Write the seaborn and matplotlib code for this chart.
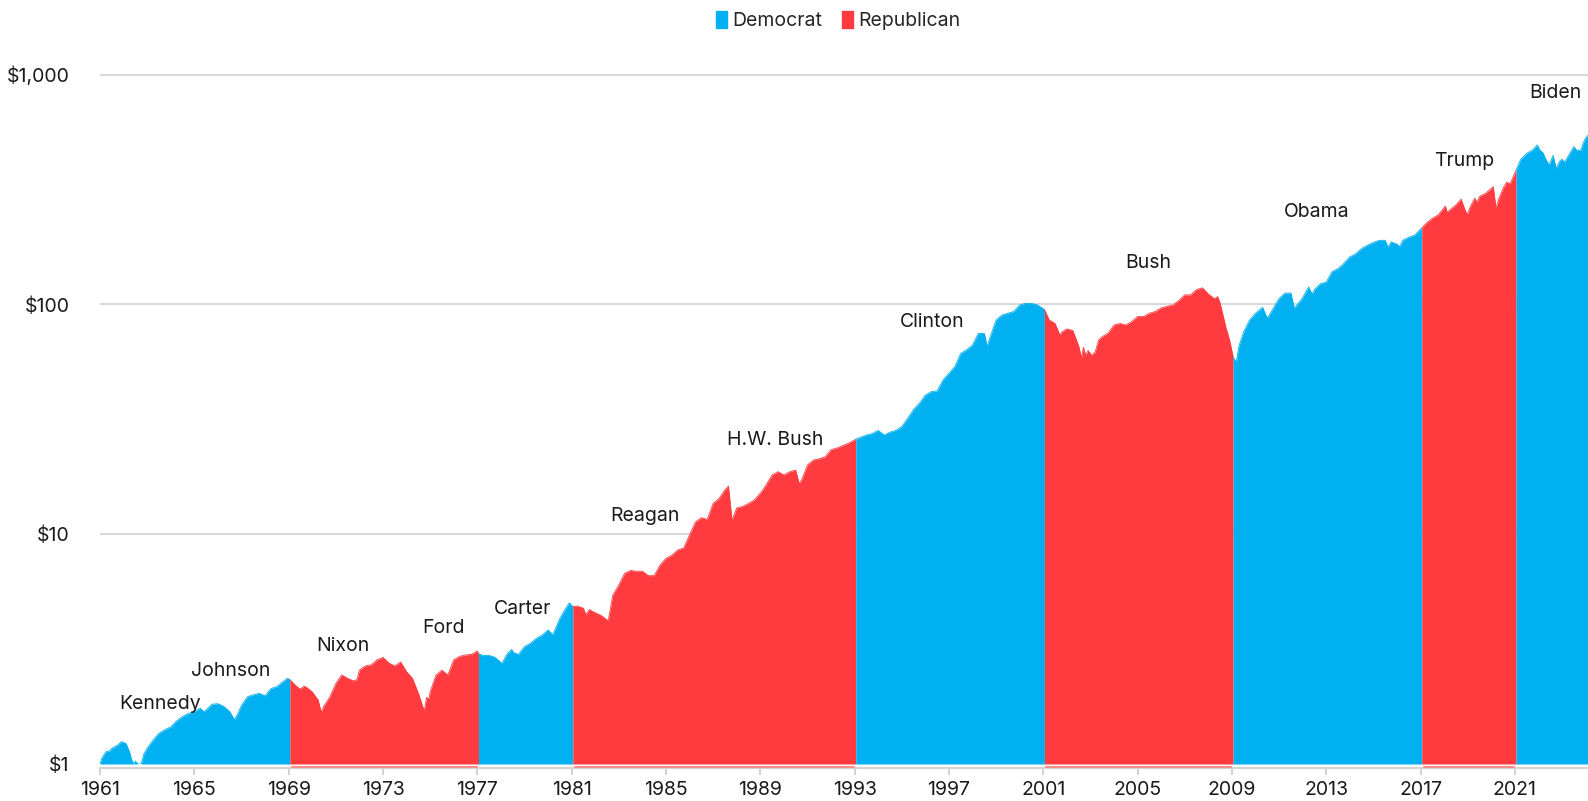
import numpy as np
import pandas as pd
import seaborn as sns
import matplotlib.pyplot as plt
from matplotlib.patches import Patch
from matplotlib import transforms

# growth of $1 (decimal year, value)
dates = [
    1961.00, 1961.08, 1961.25, 1961.40, 1961.50, 1961.75, 1961.90, 1962.10, 1962.25, 1962.35,
    1962.42, 1962.50, 1962.60, 1962.75, 1962.85, 1963.00, 1963.25, 1963.50, 1963.75, 1964.00,
    1964.25, 1964.50, 1964.75, 1965.00, 1965.25, 1965.40, 1965.50, 1965.75, 1966.00, 1966.25,
    1966.50, 1966.70, 1966.85, 1967.00, 1967.25, 1967.50, 1967.75, 1968.00, 1968.25, 1968.50,
    1968.75, 1968.95, 1969.05,
    1969.25, 1969.40, 1969.50, 1969.65, 1969.75, 1970.00, 1970.25, 1970.38, 1970.50, 1970.75,
    1971.00, 1971.25, 1971.50, 1971.75, 1971.90, 1972.00, 1972.25, 1972.50, 1972.75, 1973.00,
    1973.25, 1973.50, 1973.75, 1974.00, 1974.25, 1974.50, 1974.75, 1974.85, 1974.95, 1975.00,
    1975.25, 1975.50, 1975.75, 1976.00, 1976.25, 1976.50, 1976.75, 1977.00, 1977.05,
    1977.25, 1977.50, 1977.75, 1978.05, 1978.25, 1978.45, 1978.55, 1978.75, 1978.85, 1979.00,
    1979.25, 1979.50, 1979.75, 1980.00, 1980.20, 1980.50, 1980.75, 1980.90, 1981.05,
    1981.25, 1981.50, 1981.60, 1981.75, 1982.00, 1982.25, 1982.55, 1982.75, 1983.00, 1983.25,
    1983.50, 1983.75, 1984.00, 1984.25, 1984.50, 1984.75, 1985.00, 1985.25, 1985.50, 1985.75,
    1986.00, 1986.25, 1986.50, 1986.75, 1987.00, 1987.25, 1987.50, 1987.65, 1987.80, 1988.00,
    1988.25, 1988.50, 1988.75, 1989.05,
    1989.25, 1989.50, 1989.75, 1990.00, 1990.25, 1990.50, 1990.65, 1990.75, 1991.00, 1991.25,
    1991.50, 1991.75, 1992.00, 1992.25, 1992.50, 1992.75, 1993.05,
    1993.25, 1993.50, 1993.75, 1994.00, 1994.25, 1994.50, 1994.75, 1995.00, 1995.25, 1995.50,
    1995.75, 1996.00, 1996.25, 1996.50, 1996.75, 1997.00, 1997.25, 1997.50, 1997.75, 1998.00,
    1998.25, 1998.50, 1998.62, 1998.75, 1999.00, 1999.25, 1999.50, 1999.75, 2000.00, 2000.25,
    2000.50, 2000.75, 2001.05,
    2001.25, 2001.50, 2001.70, 2001.80, 2002.00, 2002.25, 2002.50, 2002.62, 2002.70, 2002.80,
    2002.90, 2003.05, 2003.20, 2003.35, 2003.50, 2003.75, 2004.00, 2004.25, 2004.50, 2004.75,
    2005.00, 2005.25, 2005.50, 2005.75, 2006.00, 2006.25, 2006.50, 2006.75, 2007.00, 2007.25,
    2007.50, 2007.75, 2008.00, 2008.25, 2008.40, 2008.50, 2008.75, 2008.90, 2009.05,
    2009.18, 2009.30, 2009.50, 2009.75, 2010.00, 2010.30, 2010.50, 2010.75, 2011.00, 2011.25,
    2011.50, 2011.65, 2011.75, 2012.00, 2012.25, 2012.40, 2012.50, 2012.75, 2013.00, 2013.25,
    2013.50, 2013.75, 2014.00, 2014.25, 2014.50, 2014.75, 2015.00, 2015.25, 2015.50, 2015.62,
    2015.75, 2016.00, 2016.10, 2016.25, 2016.50, 2016.75, 2017.05,
    2017.25, 2017.50, 2017.75, 2018.05, 2018.12, 2018.25, 2018.50, 2018.72, 2018.90, 2018.98,
    2019.10, 2019.30, 2019.40, 2019.50, 2019.75, 2020.08, 2020.20, 2020.30, 2020.50, 2020.65,
    2020.80, 2021.05,
    2021.25, 2021.50, 2021.75, 2021.95, 2022.05, 2022.20, 2022.30, 2022.45, 2022.62, 2022.75,
    2022.90, 2023.00, 2023.10, 2023.25, 2023.50, 2023.62, 2023.80, 2023.90, 2024.00, 2024.10,
]
values = [
    1.00, 1.06, 1.13, 1.14, 1.17, 1.21, 1.25, 1.23, 1.13, 1.04,
    0.97, 1.03, 1.00, 0.98, 1.10, 1.17, 1.27, 1.36, 1.41, 1.45,
    1.54, 1.61, 1.66, 1.69, 1.75, 1.69, 1.72, 1.82, 1.83, 1.78,
    1.69, 1.56, 1.66, 1.80, 1.96, 2.00, 2.03, 1.98, 2.13, 2.17,
    2.28, 2.36, 2.33,
    2.22, 2.15, 2.12, 2.18, 2.16, 2.06, 1.90, 1.68, 1.79, 1.96,
    2.24, 2.44, 2.36, 2.30, 2.33, 2.56, 2.67, 2.70, 2.84, 2.91,
    2.75, 2.67, 2.78, 2.52, 2.36, 2.03, 1.70, 1.95, 1.92, 2.06,
    2.44, 2.56, 2.44, 2.84, 2.94, 2.98, 3.00, 3.10, 3.02,
    2.96, 2.97, 2.91, 2.74, 3.00, 3.15, 3.05, 3.00, 3.10, 3.24,
    3.35, 3.52, 3.64, 3.83, 3.65, 4.30, 4.76, 5.03, 4.84,
    4.87, 4.76, 4.46, 4.70, 4.55, 4.43, 4.20, 5.44, 6.01, 6.76,
    6.95, 6.90, 6.90, 6.60, 6.60, 7.34, 7.85, 8.10, 8.54, 8.70,
    9.92, 11.3, 11.8, 11.6, 13.6, 14.3, 15.6, 16.2, 11.5, 13.0,
    13.2, 13.6, 14.1, 15.3,
    16.4, 18.1, 18.7, 18.1, 18.7, 19.0, 16.6, 17.2, 20.0, 21.0,
    21.3, 21.7, 23.3, 23.7, 24.3, 24.9, 25.9,
    26.4, 27.0, 27.4, 28.3, 27.0, 27.8, 28.3, 29.4, 31.9, 34.9,
    37.1, 40.3, 41.7, 42.0, 46.9, 50.1, 53.6, 61.2, 63.4, 66.6,
    74.8, 74.8, 65.6, 72.3, 85.5, 89.9, 91.5, 93.1, 99.4, 101.0,
    101.0, 99.4, 95.0,
    85.5, 82.6, 73.6, 76.0, 78.2, 77.0, 66.0, 58.5, 65.0, 60.0,
    63.0, 60.0, 62.0, 70.0, 72.3, 75.0, 81.3, 82.6, 81.3, 84.2,
    88.5, 88.5, 91.5, 93.1, 96.5, 98.1, 99.4, 104.0, 110.0, 110.0,
    116.0, 118.0, 111.0, 106.0, 108.0, 101.0, 79.0, 70.0, 59.0,
    56.0, 66.0, 76.0, 85.5, 91.5, 97.0, 87.0, 96.0, 106.0, 112.0,
    112.0, 96.0, 99.0, 107.0, 119.0, 111.0, 116.0, 123.0, 125.0, 139.0,
    143.0, 151.0, 161.0, 166.0, 175.0, 181.0, 186.0, 190.0, 190.0, 177.0,
    187.0, 183.0, 178.0, 190.0, 196.0, 200.0, 215.0,
    226.0, 237.0, 245.0, 268.0, 252.0, 258.0, 271.0, 287.0, 255.0, 246.0,
    265.0, 290.0, 278.0, 295.0, 304.0, 325.0, 262.0, 285.0, 320.0, 340.0,
    335.0, 384.0,
    428.0, 454.0, 470.0, 494.0, 470.0, 455.0, 430.0, 404.0, 445.0, 391.0,
    420.0, 428.0, 415.0, 440.0, 486.0, 468.0, 470.0, 505.0, 530.0, 545.0,
]

presidents = ['Kennedy', 'Johnson', 'Nixon', 'Ford', 'Carter', 'Reagan', 'H.W. Bush',
              'Clinton', 'Bush', 'Obama', 'Trump', 'Biden']
parties = ['Democrat', 'Democrat', 'Republican', 'Republican', 'Democrat', 'Republican',
           'Republican', 'Democrat', 'Republican', 'Democrat', 'Republican', 'Democrat']
term_starts = [1961.00, 1963.89, 1969.05, 1974.60, 1977.05, 1981.05, 1989.05,
               1993.05, 2001.05, 2009.05, 2017.05, 2021.05]

y_ticks = [1, 10, 100, 1000]
y_labels = ['$1', '$10', '$100', '$1,000']
x_ticks = list(range(1961, 2022, 4))

colors = {'Democrat': '#00B0F0', 'Republican': '#FF3B3F'}
axis_red = '#FF8C8C'

# label placement (year, value) per president
label_pos = [(1963.55, 1.82), (1966.55, 2.53), (1971.3, 3.26), (1975.55, 3.91),
             (1978.9, 4.74), (1984.1, 12.0), (1989.65, 25.8), (1996.3, 83.5),
             (2005.45, 152), (2012.6, 253), (2018.85, 421), (2022.72, 830)]

df = pd.DataFrame({'date': dates, 'value': values})
x_end = df['date'].max()

# merge consecutive terms of the same party into runs
runs = []
for start, party in zip(term_starts, parties):
    if runs and runs[-1][1] == party:
        continue
    runs.append([start, party])
run_bounds = [(r[0], runs[i + 1][0] if i + 1 < len(runs) else x_end, r[1])
              for i, r in enumerate(runs)]

sns.set_theme(style="white")
plt.rcParams['font.family'] = ['Inter', 'DejaVu Sans']

fig = plt.figure(figsize=(15.88, 8.01), dpi=100)
ax = fig.add_axes([100 / 1588, 1 - 764 / 801, 1488 / 1588, 714 / 801])
ax.set_yscale('log')

for val in y_ticks[1:]:
    ax.axhline(val, color='#d9d9d9', lw=1.5, zorder=0)

for start, end, party in run_bounds:
    seg = df[(df['date'] >= start) & (df['date'] <= end)]
    ax.fill_between(seg['date'], np.clip(seg['value'], 1, None), 1,
                    color=colors[party], linewidth=0, zorder=2)
    sns.lineplot(x=seg['date'], y=np.clip(seg['value'], 1, None), ax=ax,
                 color=colors[party], lw=0.6, zorder=3)

for name, (lx, ly) in zip(presidents, label_pos):
    ax.text(lx, ly, name, ha='center', va='center', fontsize=14, color='#1a1a1a', zorder=4)

ax.set_xlim(1961, 2024.1)
ax.set_ylim(1, 1279)
ax.set_xlabel('')
ax.set_ylabel('')
ax.set_yticks(y_ticks)
ax.set_yticklabels(y_labels)
ax.minorticks_off()
ax.set_xticks(x_ticks)
ax.set_xticklabels([str(x) for x in x_ticks])

for side in ['top', 'right', 'left']:
    ax.spines[side].set_visible(False)
ax.spines['bottom'].set_position(('outward', 3))
ax.spines['bottom'].set_color('#d3d3d3')
ax.spines['bottom'].set_linewidth(1.5)

ax.tick_params(axis='x', length=5, width=1.5, color='#d3d3d3', labelsize=14,
               labelcolor='#1a1a1a', pad=4, bottom=True)
ax.tick_params(axis='y', length=0, labelsize=14, labelcolor='#1a1a1a', pad=22)

# red tint on the axis line under Republican stretches
trans = transforms.offset_copy(ax.get_xaxis_transform(), fig=fig, y=-3, units='dots')
for start, end, party in run_bounds:
    if party == 'Republican':
        ax.plot([start + 0.08, end - 0.08], [0, 0], transform=trans, color=axis_red,
                lw=1.5, clip_on=False, zorder=5)

handles = [Patch(color=colors['Democrat']), Patch(color=colors['Republican'])]
fig.legend(handles, ['Democrat', 'Republican'], loc='center', bbox_to_anchor=(0.528, 0.974),
           ncol=2, frameon=False, fontsize=14, handlelength=0.55, handleheight=0.9,
           handletextpad=0.3, columnspacing=1.0)

fig.savefig('out.png', dpi=100)
